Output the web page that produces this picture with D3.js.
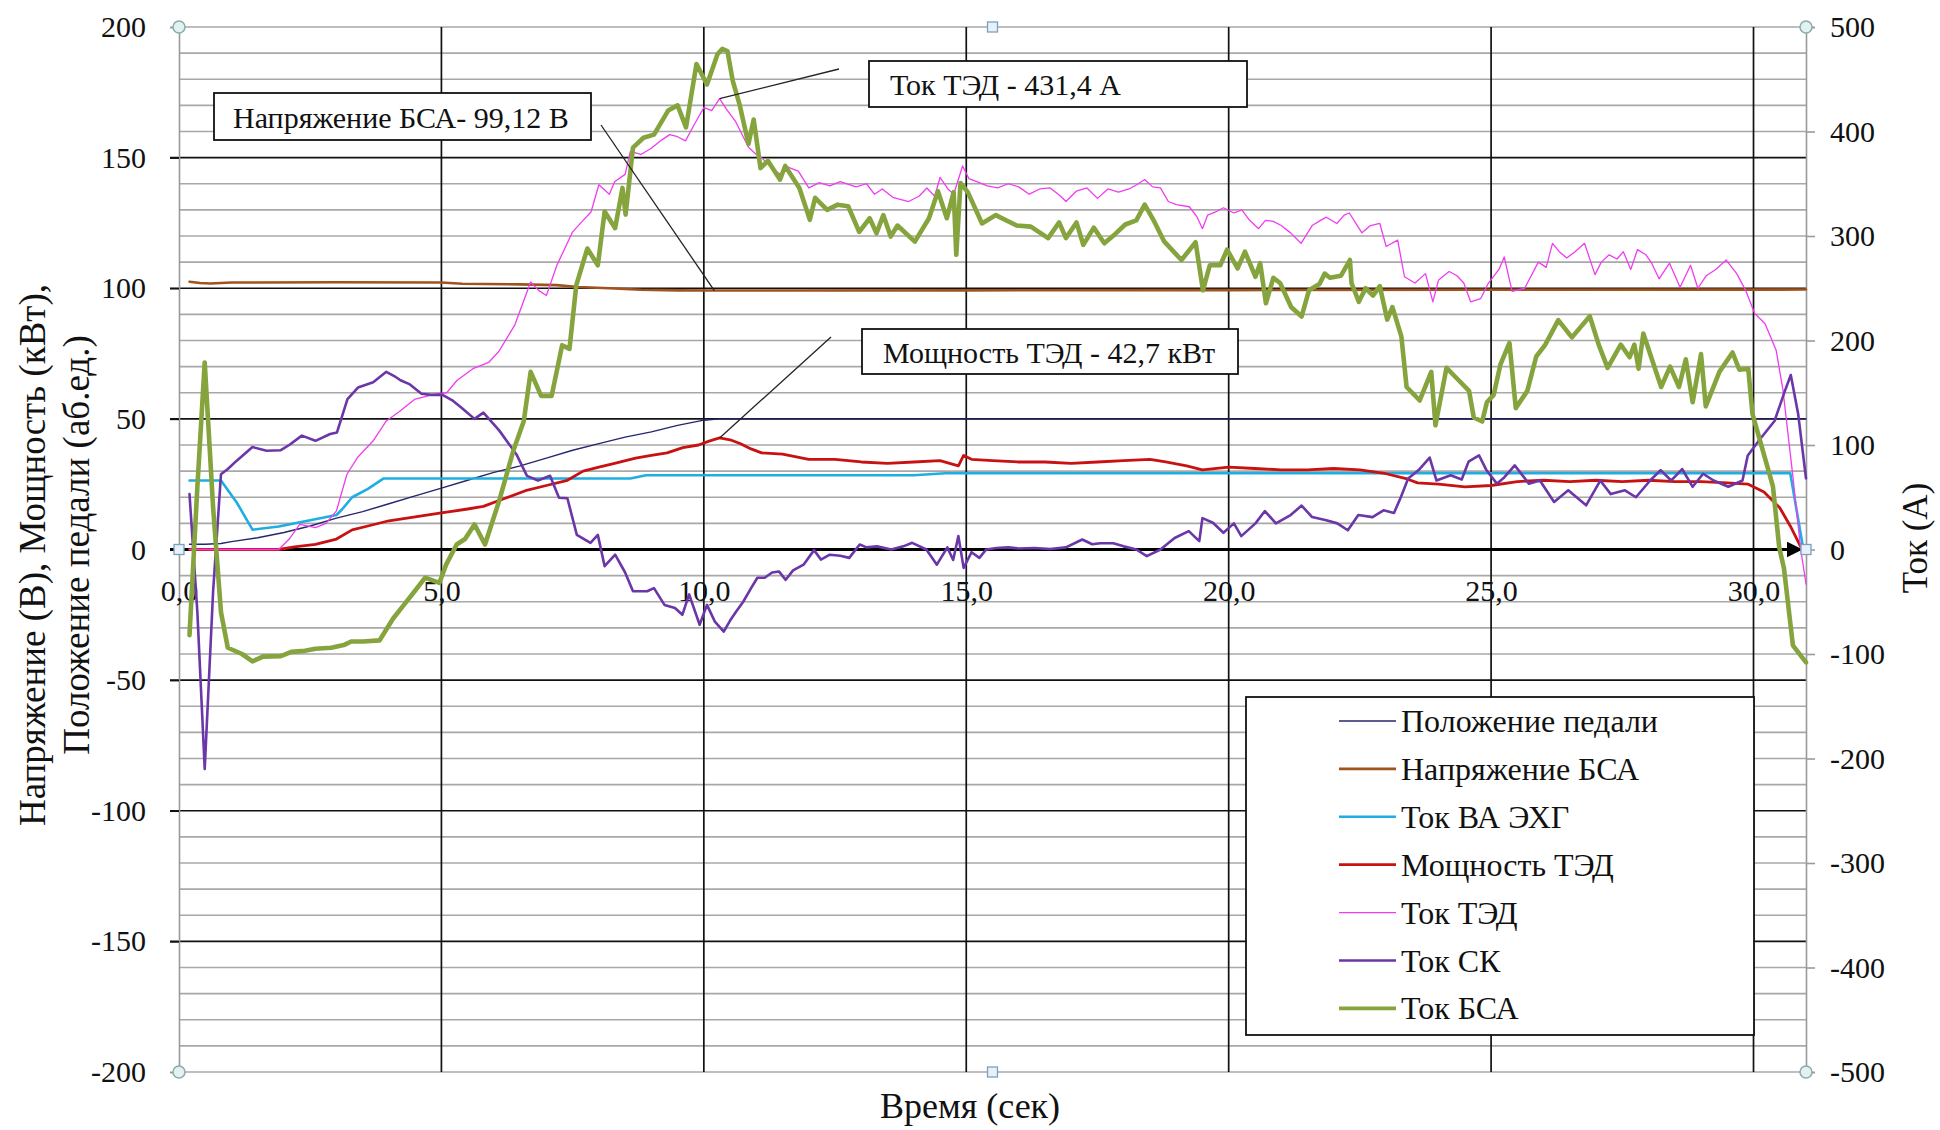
<!DOCTYPE html>
<html>
<head>
<meta charset="utf-8">
<script src="https://cdn.jsdelivr.net/npm/d3@7"></script>
<style>
  html, body { margin: 0; padding: 0; background: #fff; }
  svg { display: block; font-family: "Liberation Serif", "Times New Roman", serif; }
</style>
</head>
<body>
<svg id="chart" width="1940" height="1130"></svg>
<script>
// ---- Data: time (s) / value pairs ----
// Left axis: voltage (V), power (kW), pedal position (rel. units)
const pedal = [[0.2,2],[0.5,2],[0.8,2.3],[1.0,3],[1.5,4.5],[2.0,6.5],[2.5,9],[3.0,12],[3.5,14.5],[4.0,17.5],[4.5,20.5],[5.0,23.5],[5.5,26.5],[6.0,29.5],[6.5,32],[7.0,35],[7.5,38],[8.0,40.5],[8.5,43],[9.0,45],[9.5,47.5],[10.0,49.5],[10.3,50],[31.0,50]];

const voltageBSA = [[0.2,102.5],[0.4,102],[0.6,101.8],[1.0,102.2],[3.0,102.3],[5.0,102.2],[5.4,101.7],[6.5,101.5],[7.2,101.2],[7.6,100.5],[8.2,100],[8.8,99.4],[9.5,99.2],[10.2,99.12],[15.0,99.2],[20.0,99.3],[25.0,99.4],[31.0,99.5]];

const powerTED = [[0.2,0],[1.9,0],[2.2,1],[2.6,2],[3.0,4],[3.3,7.5],[3.6,9],[4.0,11],[4.5,12.5],[5.0,14],[5.5,15.5],[5.8,16.5],[6.2,19.5],[6.6,22.5],[7.0,24.5],[7.4,26.5],[7.7,30],[8.0,31.5],[8.3,33],[8.7,35],[9.0,36],[9.3,37],[9.6,39],[9.9,40],[10.1,41.5],[10.3,42.7],[10.5,42],[10.7,40.5],[10.9,38.5],[11.1,37],[11.5,36.5],[12.0,34.5],[12.5,34.5],[13.0,33.5],[13.5,33],[14.0,33.5],[14.5,34],[14.85,32],[14.95,36],[15.1,34.5],[15.5,34],[16.0,33.5],[16.5,33.5],[17.0,33],[17.5,33.5],[18.0,34],[18.5,34.5],[18.8,33.5],[19.2,32],[19.5,30.5],[20.0,31.5],[20.5,31],[21.0,30.5],[21.5,30.5],[22.0,31],[22.5,30.5],[23.0,29],[23.4,27],[23.6,25.5],[24.0,25],[24.5,24],[25.0,24.5],[25.5,26],[26.0,26.5],[26.5,26],[27.0,26.5],[27.5,26],[28.0,26.5],[28.5,26],[29.0,26],[29.5,25.5],[29.9,25],[30.2,22],[30.5,16],[30.7,9],[30.9,1]];

// Right axis: currents (A)
const currentFC = [[0.2,66],[0.8,66],[1.1,45],[1.4,19],[1.9,22],[2.5,28],[3.0,33],[3.1,38],[3.3,50],[3.6,58],[3.9,68],[8.6,68],[8.9,71],[14.0,71],[14.6,73],[30.7,73],[30.95,0]];

const currentTED = [[0.2,0],[1.9,0],[2.1,10],[2.3,24],[2.6,21],[2.8,25],[3.0,37],[3.2,72],[3.4,88],[3.7,104],[3.95,123],[4.2,132],[4.5,144],[4.9,149],[5.1,150],[5.3,162],[5.6,173],[5.9,179],[6.1,190],[6.4,215],[6.7,256],[6.85,248],[7.0,243],[7.2,272],[7.5,304],[7.7,315],[7.85,323],[8.0,349],[8.2,340],[8.3,352],[8.5,359],[8.6,381],[8.8,378],[9.0,384],[9.2,392],[9.35,397],[9.5,395],[9.65,391],[9.8,405],[10.0,423],[10.15,420],[10.3,431.4],[10.45,420],[10.6,410],[10.75,395],[10.85,385],[11.0,378],[11.1,375],[11.3,365],[11.45,359],[11.6,366],[11.8,362],[12.0,346],[12.2,351],[12.4,348],[12.6,352],[12.9,347],[13.1,350],[13.25,340],[13.4,345],[13.6,337],[13.9,333],[14.1,338],[14.25,346],[14.4,338],[14.5,356],[14.65,345],[14.76,340],[14.93,367],[15.05,355],[15.2,352],[15.4,348],[15.6,346],[15.8,350],[16.0,347],[16.2,340],[16.4,345],[16.6,346],[16.8,338],[16.9,333],[17.1,343],[17.3,346],[17.5,336],[17.7,345],[17.9,342],[18.1,345],[18.25,349],[18.4,354],[18.55,347],[18.7,346],[18.85,333],[19.0,330],[19.25,328],[19.4,318],[19.5,307],[19.6,320],[19.75,323],[19.9,327],[20.1,322],[20.25,325],[20.4,315],[20.57,307],[20.7,315],[20.85,314],[21.0,310],[21.18,303],[21.38,293],[21.59,310],[21.75,315],[21.86,318],[22.06,312],[22.2,320],[22.3,322],[22.45,310],[22.54,303],[22.7,310],[22.88,312],[23.0,290],[23.22,296],[23.35,261],[23.55,255],[23.75,264],[23.89,237],[24.0,258],[24.2,266],[24.35,262],[24.48,255],[24.61,237],[24.8,240],[24.95,255],[25.15,268],[25.25,280],[25.4,247],[25.64,250],[25.9,275],[26.05,270],[26.17,293],[26.3,285],[26.44,279],[26.6,285],[26.78,293],[26.98,263],[27.1,275],[27.25,282],[27.4,278],[27.52,285],[27.66,268],[27.79,287],[27.95,282],[28.06,274],[28.2,259],[28.4,274],[28.6,251],[28.8,272],[28.94,250],[29.1,262],[29.28,268],[29.48,277],[29.68,264],[29.85,248],[30.02,226],[30.22,216],[30.43,191],[30.56,153],[30.75,70],[30.9,0],[31.0,-33]];

const currentSK = [[0.2,53],[0.35,-60],[0.49,-210],[0.65,-40],[0.8,72],[0.93,77],[1.1,85],[1.4,98],[1.67,94.5],[1.94,95],[2.1,100],[2.34,109],[2.6,104],[2.88,110.5],[3.01,112],[3.21,144],[3.41,155],[3.7,160],[3.95,170],[4.1,166],[4.22,162],[4.4,158],[4.62,149],[4.8,148],[5.02,148],[5.2,143],[5.4,135],[5.63,125],[5.8,131],[6.1,114],[6.43,91],[6.63,70.5],[6.84,66],[7.07,70.5],[7.24,49.5],[7.4,49],[7.58,14],[7.84,6.4],[7.98,14],[8.11,-16],[8.31,-5],[8.5,-22],[8.65,-40],[8.92,-40],[9.05,-37],[9.25,-53],[9.45,-56],[9.59,-62.5],[9.72,-43],[9.92,-72],[10.06,-53],[10.21,-69],[10.38,-78.6],[10.5,-68],[10.62,-59],[10.75,-50],[10.9,-37],[11.02,-27],[11.16,-27],[11.3,-22],[11.43,-21],[11.56,-29],[11.7,-20],[11.9,-14.5],[12.1,-0.6],[12.23,-9.6],[12.4,-5],[12.6,-6],[12.77,-8],[12.97,4.8],[13.1,2],[13.3,3],[13.57,0],[13.8,3],[13.97,6.4],[14.24,0],[14.44,-14.5],[14.64,2],[14.75,-10],[14.85,12.8],[14.95,-17.6],[15.1,-2.6],[15.25,-8],[15.38,0],[15.58,1.5],[15.8,2],[16.0,1],[16.3,1.5],[16.6,0.5],[16.9,2],[17.21,9.6],[17.4,5],[17.55,6],[17.8,6],[18.0,3],[18.24,0],[18.44,-6.4],[18.7,0],[18.97,11],[19.24,17.6],[19.44,8],[19.5,30],[19.7,25.6],[19.9,16],[20.1,25],[20.24,12.8],[20.51,25],[20.69,36.8],[20.9,25],[21.18,33],[21.39,42],[21.59,31],[21.86,28],[22.07,25],[22.27,18.4],[22.47,33],[22.74,31],[22.95,37.5],[23.15,35],[23.28,50],[23.42,68],[23.62,76],[23.83,88],[23.96,66],[24.23,71],[24.44,67],[24.57,84],[24.77,90],[24.91,76],[25.11,63],[25.25,69],[25.45,80.5],[25.72,63],[25.93,66],[26.2,45.5],[26.47,56.6],[26.81,42.3],[27.08,66],[27.28,53],[27.55,56.6],[27.76,50],[28.03,66],[28.23,76],[28.43,66],[28.64,77],[28.84,60],[29.04,72.5],[29.24,66],[29.52,60],[29.79,66],[29.89,90],[30.13,106],[30.4,123],[30.6,152],[30.71,167],[30.85,130],[31.0,68]];

const currentBSA = [[0.2,-82],[0.35,60],[0.49,179],[0.65,40],[0.8,-60],[0.93,-94],[1.2,-100],[1.4,-107],[1.6,-102.5],[1.94,-102],[2.14,-98],[2.4,-97],[2.6,-95],[2.9,-94],[3.14,-91.5],[3.28,-88],[3.5,-88],[3.82,-87],[4.08,-66],[4.3,-52],[4.49,-40],[4.69,-27],[4.96,-32],[5.09,-14.5],[5.29,4.8],[5.45,10],[5.63,24],[5.83,4.8],[6.1,46.5],[6.37,94.5],[6.57,123],[6.7,170],[6.9,147],[7.1,147],[7.3,195.5],[7.44,192],[7.57,253],[7.78,288],[7.98,272],[8.11,323.5],[8.31,307.5],[8.45,346],[8.51,320.5],[8.65,384.6],[8.85,394],[9.05,397],[9.32,420],[9.5,425],[9.66,404],[9.86,464.6],[10.06,445],[10.26,474],[10.35,479],[10.45,477],[10.55,448.6],[10.68,426],[10.85,388],[10.95,411.5],[11.08,365],[11.22,372],[11.45,354],[11.55,367],[11.82,346],[12.02,315.5],[12.12,336.5],[12.35,325],[12.55,330],[12.75,328.5],[12.96,304],[13.16,317],[13.29,302.6],[13.42,320],[13.56,299.5],[13.69,310],[14.02,294.6],[14.29,317],[14.46,342.8],[14.63,317],[14.76,342],[14.81,282],[14.89,350.7],[15.03,342],[15.3,312],[15.56,320],[15.96,310],[16.23,309],[16.56,298],[16.77,313],[16.9,298],[17.1,313],[17.23,291.5],[17.43,308],[17.63,293],[17.84,302],[18.03,311],[18.24,315],[18.4,330],[18.57,315],[18.77,294.8],[19.1,277],[19.37,294],[19.51,248],[19.64,272],[19.84,272],[19.97,287],[20.17,269],[20.31,285],[20.51,261],[20.6,274],[20.71,235.6],[20.85,260],[20.98,255],[21.19,232],[21.39,223],[21.53,248],[21.73,254],[21.83,264],[21.93,260],[22.14,262],[22.31,277],[22.34,255],[22.48,237],[22.61,250],[22.75,243],[22.88,252],[23.02,220],[23.12,232],[23.29,204],[23.39,155.5],[23.64,142.6],[23.86,170],[23.94,118.8],[24.15,173.8],[24.33,164.6],[24.58,151.8],[24.67,126.3],[24.83,122.5],[24.92,140.9],[25.05,148],[25.18,177.4],[25.35,197.6],[25.47,135.3],[25.69,151.8],[25.86,184.7],[26.03,195.8],[26.28,219.5],[26.54,203],[26.88,223.2],[27.05,196],[27.22,173.8],[27.47,196],[27.64,184],[27.73,196],[27.81,173],[27.9,206.7],[28.24,155.5],[28.41,175],[28.58,155.5],[28.71,182],[28.84,140.9],[29.0,187],[29.09,137],[29.35,170],[29.6,188.5],[29.73,172],[29.9,173],[29.98,129.8],[30.37,60.3],[30.49,2],[30.58,-18],[30.75,-91.7],[31.0,-108]];

// Axis ticks
const xTicks = [0, 5, 10, 15, 20, 25, 30];
const leftTicks = [-200, -150, -100, -50, 0, 50, 100, 150, 200];
const rightTicks = [-500, -400, -300, -200, -100, 0, 100, 200, 300, 400, 500];

// Series definitions (name, data, axis)
const seriesList = [
  { name: "Положение педали", data: pedal,       axis: "L", color: "#26266e", width: 1.4 },
  { name: "Напряжение БСА",   data: voltageBSA,  axis: "L", color: "#a0531c", width: 2.6 },
  { name: "Ток ВА ЭХГ",       data: currentFC,   axis: "R", color: "#1eaee2", width: 2.6 },
  { name: "Мощность ТЭД",     data: powerTED,    axis: "L", color: "#c81212", width: 2.8 },
  { name: "Ток ТЭД",          data: currentTED,  axis: "R", color: "#f03cf0", width: 1.3 },
  { name: "Ток СК",           data: currentSK,   axis: "R", color: "#6a36a8", width: 2.6 },
  { name: "Ток БСА",          data: currentBSA,  axis: "R", color: "#86a43e", width: 4.6 }
];

// Callouts: text, series and the point they point to
const callouts = [
  { text: "Напряжение БСА- 99,12 В", axis: "L", t: 10.2, v: 99.12,
    box: [214, 93, 377, 47], from: [601, 125], tx: 233, ty: 128 },
  { text: "Ток ТЭД - 431,4 А", axis: "R", t: 10.3, v: 431.4,
    box: [869, 61, 378, 46], from: [839, 69], tx: 890, ty: 95 },
  { text: "Мощность ТЭД - 42,7 кВт", axis: "L", t: 10.3, v: 42.7,
    box: [862, 329, 376, 45], from: [831, 337], tx: 883, ty: 363 }
];

// ---- Layout ----
const svg = d3.select("#chart");
const X0 = 179, X1 = 1806, Y0 = 27, Y1 = 1072;

const x  = d3.scaleLinear().domain([0, 31]).range([X0, X1]);
const yL = d3.scaleLinear().domain([-200, 200]).range([Y1, Y0]);
const yR = d3.scaleLinear().domain([-500, 500]).range([Y1, Y0]);

const grid = svg.append("g");

// minor horizontal gridlines every 10 units
grid.selectAll("line.minor")
  .data(d3.range(-200, 201, 10).filter(v => v % 50 !== 0 || Math.abs(v) === 200))
  .join("line")
  .attr("x1", X0).attr("x2", X1)
  .attr("y1", d => yL(d)).attr("y2", d => yL(d))
  .attr("stroke", "#a8a8a8").attr("stroke-width", 1.6);

// major horizontal gridlines
grid.selectAll("line.major")
  .data([-150, -100, -50, 50, 100, 150])
  .join("line")
  .attr("x1", X0 - 9).attr("x2", X1)
  .attr("y1", d => yL(d)).attr("y2", d => yL(d))
  .attr("stroke", "#111").attr("stroke-width", 1.7);

// vertical gridlines
grid.selectAll("line.vert")
  .data(xTicks.filter(d => d > 0))
  .join("line")
  .attr("x1", d => x(d)).attr("x2", d => x(d))
  .attr("y1", Y0).attr("y2", Y1)
  .attr("stroke", "#111").attr("stroke-width", 1.7);

// left axis
const axL = svg.append("g").attr("transform", `translate(${X0},0)`)
  .call(d3.axisLeft(yL).tickValues(leftTicks).tickSize(9).tickPadding(24).tickFormat(d => String(d)));
axL.select(".domain").attr("stroke", "#9a9a9a").attr("stroke-width", 1.6);
axL.selectAll(".tick line").attr("stroke", d => Math.abs(d) === 200 ? "#9a9a9a" : "#111").attr("stroke-width", 1.6);
axL.selectAll(".tick text").attr("font-size", 30).attr("fill", "#111")
  .attr("font-family", "Liberation Serif, Times New Roman, serif");

// right axis
const axR = svg.append("g").attr("transform", `translate(${X1},0)`)
  .call(d3.axisRight(yR).tickValues(rightTicks).tickSize(9).tickPadding(15).tickFormat(d => String(d)));
axR.select(".domain").attr("stroke", "#9a9a9a").attr("stroke-width", 1.6);
axR.selectAll(".tick line").attr("stroke", "#9a9a9a").attr("stroke-width", 1.6);
axR.selectAll(".tick text").attr("font-size", 30).attr("fill", "#111")
  .attr("font-family", "Liberation Serif, Times New Roman, serif");

// x axis labels sitting under the zero line
const axX = svg.append("g").attr("transform", `translate(0,${yL(0)})`)
  .call(d3.axisBottom(x).tickValues(xTicks).tickSize(0).tickPadding(30)
    .tickFormat(d => d3.format(".1f")(d).replace(".", ",")));
axX.select(".domain").remove();
axX.selectAll(".tick text").attr("font-size", 30).attr("fill", "#111")
  .attr("font-family", "Liberation Serif, Times New Roman, serif");

// zero line with arrow
const defs = svg.append("defs");
defs.append("marker").attr("id", "arrow")
  .attr("viewBox", "0 0 10 10").attr("refX", 9).attr("refY", 5)
  .attr("markerWidth", 5).attr("markerHeight", 5).attr("orient", "auto")
  .attr("markerUnits", "strokeWidth")
  .append("path").attr("d", "M0,0 L10,5 L0,10 Z").attr("fill", "#000");
svg.append("line")
  .attr("x1", X0 - 9).attr("x2", X1 - 5)
  .attr("y1", yL(0)).attr("y2", yL(0))
  .attr("stroke", "#000").attr("stroke-width", 3.2)
  .attr("marker-end", "url(#arrow)");

// series lines
const lines = svg.append("g");
seriesList.forEach(s => {
  const ys = s.axis === "L" ? yL : yR;
  const gen = d3.line().x(d => x(d[0])).y(d => ys(d[1]));
  lines.append("path")
    .datum(s.data)
    .attr("d", gen)
    .attr("fill", "none")
    .attr("stroke", s.color)
    .attr("stroke-width", s.width)
    .attr("stroke-linejoin", "round")
    .attr("stroke-linecap", "round");
});

// callouts with leader lines
const co = svg.append("g");
callouts.forEach(c => {
  const ys = c.axis === "L" ? yL : yR;
  co.append("line")
    .attr("x1", c.from[0]).attr("y1", c.from[1])
    .attr("x2", x(c.t)).attr("y2", ys(c.v))
    .attr("stroke", "#222").attr("stroke-width", 1.3);
  co.append("rect")
    .attr("x", c.box[0]).attr("y", c.box[1])
    .attr("width", c.box[2]).attr("height", c.box[3])
    .attr("fill", "#fff").attr("stroke", "#111").attr("stroke-width", 1.8);
  co.append("text")
    .attr("x", c.tx).attr("y", c.ty)
    .attr("font-size", 30).attr("fill", "#111")
    .text(c.text);
});

// legend
const lg = svg.append("g");
lg.append("rect")
  .attr("x", 1246).attr("y", 697).attr("width", 508).attr("height", 338)
  .attr("fill", "#fff").attr("stroke", "#111").attr("stroke-width", 1.8);
seriesList.forEach((s, i) => {
  const cy = 721 + i * 47.9;
  lg.append("line")
    .attr("x1", 1339).attr("x2", 1396).attr("y1", cy).attr("y2", cy)
    .attr("stroke", s.color).attr("stroke-width", Math.min(s.width, 3.6));
  lg.append("text")
    .attr("x", 1401).attr("y", cy + 11)
    .attr("font-size", 32).attr("fill", "#111")
    .text(s.name);
});

// axis titles
svg.append("text")
  .attr("transform", "translate(45,555) rotate(-90)")
  .attr("text-anchor", "middle").attr("font-size", 37).attr("fill", "#111")
  .text("Напряжение (В), Мощность (кВт),");
svg.append("text")
  .attr("transform", "translate(89,545) rotate(-90)")
  .attr("text-anchor", "middle").attr("font-size", 37).attr("fill", "#111")
  .text("Положение педали (аб.ед.)");
svg.append("text")
  .attr("transform", "translate(1927,538) rotate(-90)")
  .attr("text-anchor", "middle").attr("font-size", 35).attr("fill", "#111")
  .text("Ток (А)");
svg.append("text")
  .attr("x", 970).attr("y", 1118)
  .attr("text-anchor", "middle").attr("font-size", 36).attr("fill", "#111")
  .text("Время (сек)");

// frame handles
const handles = svg.append("g");
[[X0, Y0], [X0, Y1], [X1, Y0], [X1, Y1]].forEach(p => {
  handles.append("circle").attr("cx", p[0]).attr("cy", p[1]).attr("r", 6)
    .attr("fill", "#e2f2f0").attr("stroke", "#8aaab0").attr("stroke-width", 1.5);
});
[[(X0 + X1) / 2, Y0], [(X0 + X1) / 2, Y1], [X0, yL(0)], [X1, yL(0)]].forEach(p => {
  handles.append("rect").attr("x", p[0] - 5).attr("y", p[1] - 5).attr("width", 10).attr("height", 10)
    .attr("fill", "#e6f2fa").attr("stroke", "#7f9fbf").attr("stroke-width", 1.3);
});
</script>
</body>
</html>
